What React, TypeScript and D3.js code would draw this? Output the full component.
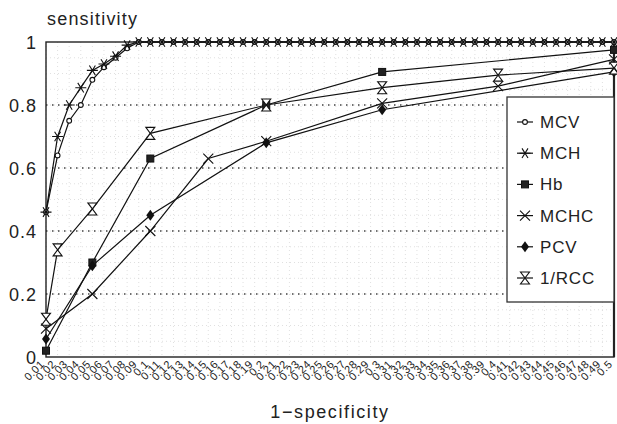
import React, { useEffect } from 'react';
import * as d3 from 'd3';

// x categories (1-specificity)
const categories = [
  '0.01', '0.02', '0.03', '0.04', '0.05', '0.06', '0.07', '0.08', '0.09', '0.1',
  '0.11', '0.12', '0.13', '0.14', '0.15', '0.16', '0.17', '0.18', '0.19', '0.2',
  '0.21', '0.22', '0.23', '0.24', '0.25', '0.26', '0.27', '0.28', '0.29', '0.3',
  '0.31', '0.32', '0.33', '0.34', '0.35', '0.36', '0.37', '0.38', '0.39', '0.4',
  '0.41', '0.42', '0.43', '0.44', '0.45', '0.46', '0.47', '0.48', '0.49', '0.5',
];

const mcvValues = [
  0.46, 0.64, 0.75, 0.8, 0.88, 0.92, 0.95, 0.98, 1, 1,
  1, 1, 1, 1, 1, 1, 1, 1, 1, 1,
  1, 1, 1, 1, 1, 1, 1, 1, 1, 1,
  1, 1, 1, 1, 1, 1, 1, 1, 1, 1,
  1, 1, 1, 1, 1, 1, 1, 1, 1, 1,
];

const mchValues = [
  0.46, 0.7, 0.8, 0.855, 0.91, 0.93, 0.955, 0.99, 1, 1,
  1, 1, 1, 1, 1, 1, 1, 1, 1, 1,
  1, 1, 1, 1, 1, 1, 1, 1, 1, 1,
  1, 1, 1, 1, 1, 1, 1, 1, 1, 1,
  1, 1, 1, 1, 1, 1, 1, 1, 1, 1,
];

const hbPoints: [string, number][] = [
  ['0.01', 0.02], ['0.05', 0.3], ['0.1', 0.63], ['0.2', 0.8], ['0.3', 0.905], ['0.5', 0.975],
];
const mchcPoints: [string, number][] = [
  ['0.01', 0.09], ['0.05', 0.2], ['0.1', 0.4], ['0.15', 0.63], ['0.2', 0.685],
  ['0.3', 0.805], ['0.4', 0.86], ['0.5', 0.945],
];
const pcvPoints: [string, number][] = [
  ['0.01', 0.057], ['0.05', 0.29], ['0.1', 0.45], ['0.2', 0.68], ['0.3', 0.785], ['0.5', 0.905],
];
const rccPoints: [string, number][] = [
  ['0.01', 0.12], ['0.02', 0.34], ['0.05', 0.47], ['0.1', 0.71], ['0.2', 0.8],
  ['0.3', 0.855], ['0.4', 0.895], ['0.5', 0.917],
];

const yTicks = [0, 0.2, 0.4, 0.6, 0.8, 1];
const legendNames = ['MCV', 'MCH', 'Hb', 'MCHC', 'PCV', '1/RCC'];

const W = 617;
const H = 424;
const left = 46;
const right = 614;
const top = 42;
const bottom = 357;

const FONT = '"Liberation Sans", Arial, sans-serif';

type Kind = 'circle' | 'asterisk' | 'square' | 'x' | 'diamond' | 'hourglass';

const Marker: React.FC<{ kind: Kind; x: number; y: number }> = ({ kind, x, y }) => {
  const t = `translate(${x},${y})`;
  switch (kind) {
    case 'circle':
      return <circle transform={t} r={2.4} fill="#fff" stroke="#111" strokeWidth={1.1} />;
    case 'asterisk':
      return (
        <path
          transform={t}
          d="M-5.5,0H5.5M-3,-4.8L3,4.8M-3,4.8L3,-4.8"
          fill="none"
          stroke="#111"
          strokeWidth={1.1}
        />
      );
    case 'square':
      return <rect transform={t} x={-3.5} y={-3.5} width={7} height={7} fill="#222" stroke="#111" />;
    case 'x':
      return (
        <path transform={t} d="M-5,-5L5,5M-5,5L5,-5" fill="none" stroke="#111" strokeWidth={1.1} />
      );
    case 'diamond':
      return <path transform={t} d="M0,-5.5L4,0L0,5.5L-4,0Z" fill="#111" />;
    case 'hourglass':
      return (
        <path
          transform={t}
          d="M-4.5,-6H4.5L-4.5,6H4.5Z"
          fill="#fff"
          stroke="#111"
          strokeWidth={1.1}
        />
      );
  }
  return null;
};

const App: React.FC = () => {
  useEffect(() => {
    document.body.style.margin = '0';
  }, []);

  const x = d3.scalePoint<string>().domain(categories).range([left, right]).padding(0);
  const y = d3.scaleLinear().domain([0, 1]).range([bottom, top]);

  const line = d3
    .line<[string, number]>()
    .x((d) => x(d[0]) as number)
    .y((d) => y(d[1]));

  const mcv: [string, number][] = categories.map((c, i) => [c, mcvValues[i]]);
  const mch: [string, number][] = categories.map((c, i) => [c, mchValues[i]]);

  const series: { name: string; kind: Kind; pts: [string, number][] }[] = [
    { name: 'MCV', kind: 'circle', pts: mcv },
    { name: 'MCH', kind: 'asterisk', pts: mch },
    { name: 'Hb', kind: 'square', pts: hbPoints },
    { name: 'MCHC', kind: 'x', pts: mchcPoints },
    { name: 'PCV', kind: 'diamond', pts: pcvPoints },
    { name: '1/RCC', kind: 'hourglass', pts: rccPoints },
  ];

  const minorY = d3.range(0.05, 1, 0.05);

  return (
    <svg width={W} height={H} style={{ display: 'block', background: '#fff' }}>
      {/* faint background texture */}
      <g stroke="#d8d8d8" strokeWidth={0.8} strokeDasharray="1,3">
        {categories.map((c) => (
          <line key={'v' + c} x1={x(c)} x2={x(c)} y1={top} y2={bottom} />
        ))}
        {minorY.map((v) => (
          <line key={'h' + v} x1={left} x2={right} y1={y(v)} y2={y(v)} />
        ))}
      </g>

      {/* major dotted gridlines */}
      <g stroke="#444" strokeWidth={1.3} strokeDasharray="1.5,4.5">
        {yTicks
          .filter((v) => v > 0 && v < 1)
          .map((v) => (
            <line key={v} x1={left} x2={right} y1={y(v)} y2={y(v)} />
          ))}
      </g>

      {/* frame */}
      <rect x={left} y={top} width={right - left} height={bottom - top} fill="none" stroke="#222" strokeWidth={1.4} />
      <line x1={right} x2={right} y1={top} y2={bottom} stroke="#222" strokeWidth={2.2} />

      {/* y tick labels */}
      <g fontFamily={FONT} fontSize={18} fill="#222" textAnchor="end" letterSpacing={1}>
        {yTicks.map((v) => (
          <text key={v} x={37} y={y(v) + 6.5}>
            {String(v)}
          </text>
        ))}
      </g>

      {/* x tick labels */}
      <g fontFamily={FONT} fontSize={11} fill="#222" textAnchor="end" letterSpacing={0.4}>
        {categories.map((c) => {
          const px = (x(c) as number) - 1;
          const py = bottom + 8;
          return (
            <text key={c} x={px} y={py} transform={`rotate(-45,${px},${py})`}>
              {c}
            </text>
          );
        })}
      </g>

      {/* axis titles */}
      <text x={47} y={25} fontFamily={FONT} fontSize={18} letterSpacing={1.2} fill="#222">
        sensitivity
      </text>
      <text
        x={(left + right) / 2}
        y={418}
        fontFamily={FONT}
        fontSize={18}
        letterSpacing={1.6}
        fill="#222"
        textAnchor="middle"
      >
        1−specificity
      </text>

      {/* series lines */}
      <g fill="none" stroke="#111" strokeWidth={1.2}>
        {series.map((s) => (
          <path key={s.name} d={line(s.pts) || ''} />
        ))}
      </g>

      {/* series markers */}
      {series.map((s) => (
        <g key={s.name + 'm'}>
          {s.pts.map((p, i) => (
            <Marker key={i} kind={s.kind} x={x(p[0]) as number} y={y(p[1])} />
          ))}
        </g>
      ))}

      {/* legend */}
      <g>
        <rect x={507} y={97} width={107} height={205} fill="#fff" stroke="#333" strokeWidth={1.3} />
        {series.map((s, i) => {
          const ly = 122 + i * 31.2;
          return (
            <g key={'lg' + s.name}>
              <line x1={517} x2={533} y1={ly} y2={ly} stroke="#111" strokeWidth={1.2} />
              <Marker kind={s.kind} x={525} y={ly} />
              <text x={540} y={ly + 6} fontFamily={FONT} fontSize={17} letterSpacing={0.8} fill="#222">
                {legendNames[i]}
              </text>
            </g>
          );
        })}
      </g>
    </svg>
  );
};

export default App;
